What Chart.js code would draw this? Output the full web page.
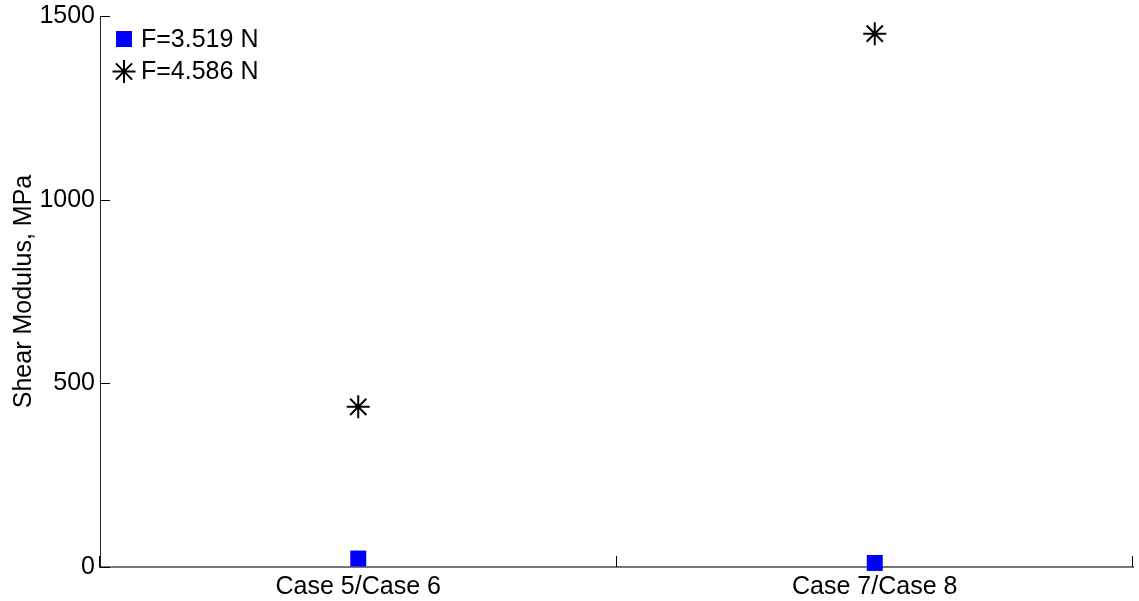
<!DOCTYPE html>
<html>
<head>
<meta charset="utf-8">
<script src="https://cdn.jsdelivr.net/npm/chart.js@4"></script>
<style>
  html, body { margin: 0; padding: 0; background: #fff; }
  #wrap { width: 1139px; height: 601px; }
</style>
</head>
<body>
<div id="wrap"><canvas id="myChart"></canvas></div>
<script>
// dados
const categories = ['Case 5/Case 6', 'Case 7/Case 8'];
const seriesLabels = ['F=3.519 N', 'F=4.586 N'];
const f3519 = [23, 11];
const f4586 = [436, 1452];
const yTicks = [0, 500, 1000, 1500];

const fontFam = "'Liberation Sans', Arial, sans-serif";

// legenda dentro da área do gráfico (canto superior esquerdo)
const innerLegend = {
    id: 'innerLegend',
    afterDatasetsDraw(chart) {
        const ctx = chart.ctx;
        const area = chart.chartArea;
        ctx.save();
        ctx.font = '25px ' + fontFam;
        ctx.textBaseline = 'middle';
        ctx.textAlign = 'left';
        chart.data.datasets.forEach(function (ds, i) {
            const cx = area.left + 24;
            const cy = area.top + 23 + i * 32.5;
            ctx.fillStyle = ds.pointBackgroundColor;
            ctx.strokeStyle = ds.pointBorderColor;
            ctx.lineWidth = ds.pointBorderWidth;
            Chart.helpers.drawPoint(ctx, {
                pointStyle: ds.pointStyle,
                radius: ds.pointRadius,
                borderWidth: ds.pointBorderWidth,
                rotation: 0
            }, cx, cy);
            ctx.fillStyle = '#000';
            ctx.fillText(ds.label, area.left + 41, cy + 1);
        });
        ctx.restore();
    }
};

// marcas dos eixos para dentro (estilo MATLAB)
const innerTicks = {
    id: 'innerTicks',
    afterDraw(chart) {
        const ctx = chart.ctx;
        const area = chart.chartArea;
        const x = chart.scales.x;
        const y = chart.scales.y;
        ctx.save();
        ctx.strokeStyle = '#000';
        ctx.lineWidth = 1;
        ctx.beginPath();
        y.ticks.forEach(function (t) {
            const py = Math.round(y.getPixelForValue(t.value)) + 0.5;
            ctx.moveTo(area.left, py);
            ctx.lineTo(area.left + 10, py);
        });
        for (let i = 0; i <= categories.length; i++) {
            const px = Math.round(x.getPixelForValue(i - 0.5)) - 0.5;
            ctx.moveTo(px, area.bottom);
            ctx.lineTo(px, area.bottom - 11);
        }
        ctx.stroke();
        ctx.restore();
    }
};

const ctx = document.getElementById('myChart').getContext('2d');
const myChart = new Chart(ctx, {
    type: 'line',
    data: {
        labels: categories,
        datasets: [{
            label: seriesLabels[0],
            data: f3519,
            showLine: false,
            pointStyle: 'rect',
            pointRadius: 11.3,
            pointBackgroundColor: '#0000ff',
            pointBorderColor: '#0000ff',
            pointBorderWidth: 0,
            clip: false
        }, {
            label: seriesLabels[1],
            data: f4586,
            showLine: false,
            pointStyle: 'star',
            pointRadius: 11.5,
            pointBackgroundColor: '#000',
            pointBorderColor: '#000',
            pointBorderWidth: 2,
            clip: false
        }]
    },
    options: {
        responsive: true,
        maintainAspectRatio: false,
        animation: false,
        layout: {
            autoPadding: false,
            padding: { top: 16, right: 6, left: 0, bottom: 0 }
        },
        scales: {
            x: {
                offset: true,
                grid: { display: true, drawOnChartArea: false, drawTicks: false },
                border: { display: true, color: '#777', width: 2 },
                ticks: {
                    padding: 5,
                    color: '#000',
                    maxRotation: 0,
                    font: { family: fontFam, size: 25 }
                },
                afterFit: function (scale) {
                    scale.height = 34;
                    scale.paddingLeft = 0;
                    scale.paddingRight = 0;
                }
            },
            y: {
                min: yTicks[0],
                max: yTicks[yTicks.length - 1],
                grid: { display: true, drawOnChartArea: false, drawTicks: false },
                border: { display: true, color: '#222', width: 1 },
                afterBuildTicks: function (scale) {
                    scale.ticks = yTicks.map(v => ({ value: v }));
                },
                ticks: {
                    padding: 5,
                    color: '#000',
                    font: { family: fontFam, size: 25 },
                    callback: function (value) { return String(value); }
                },
                title: {
                    display: true,
                    text: 'Shear Modulus, MPa',
                    color: '#000',
                    padding: { top: 9, bottom: 0 },
                    font: { family: fontFam, size: 25 }
                },
                afterFit: function (scale) {
                    scale.width = 100;
                    scale.paddingTop = 0;
                    scale.paddingBottom = 0;
                }
            }
        },
        plugins: {
            legend: { display: false },
            tooltip: { enabled: false }
        }
    },
    plugins: [innerLegend, innerTicks]
});
</script>
</body>
</html>
